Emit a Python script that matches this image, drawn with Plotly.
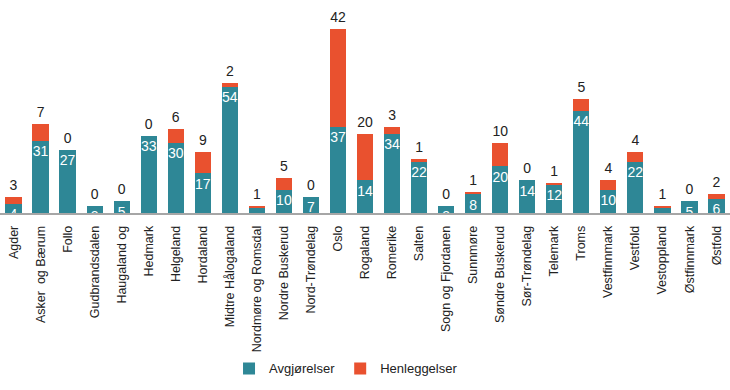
import plotly.graph_objects as go

categories = ["Agder", "Asker  og Bærum", "Follo", "Gudbrandsdalen", "Haugaland og",
              "Hedmark", "Helgeland", "Hordaland", "Midtre Hålogaland", "Nordmøre og Romsdal",
              "Nordre Buskerud", "Nord-Trøndelag", "Oslo", "Rogaland", "Romerike", "Salten",
              "Sogn og Fjordanen", "Sunnmøre", "Søndre Buskerud", "Sør-Trøndelag", "Telemark",
              "Troms", "Vestfinnmark", "Vestfold", "Vestoppland", "Østfinnmark", "Østfold"]
avgjorelser = [4, 31, 27, 3, 5, 33, 30, 17, 54, 2, 10, 7, 37, 14, 34, 22, 3, 8, 20, 14, 12, 44, 10, 22, 2, 5, 6]
henleggelser = [3, 7, 0, 0, 0, 0, 6, 9, 2, 1, 5, 0, 42, 20, 3, 1, 0, 1, 10, 0, 1, 5, 4, 4, 1, 0, 2]

totals = [a + h for a, h in zip(avgjorelser, henleggelser)]

BLUE = "#2E8796"
RED = "#E9512F"
FONT = "Liberation Sans, Arial, sans-serif"

fig = go.Figure()
fig.add_trace(go.Bar(
    x=categories, y=avgjorelser, name="Avgjørelser",
    marker=dict(color=BLUE, line=dict(width=0)),
    textposition="none",
))
fig.add_trace(go.Bar(
    x=categories, y=henleggelser, name="Henleggelser",
    marker=dict(color=RED, line=dict(width=0)),
    textposition="none",
))
# values inside the blue segments (white), hanging from the segment top
fig.add_trace(go.Scatter(
    x=categories, y=avgjorelser, mode="markers+text", text=[str(v) for v in avgjorelser],
    marker=dict(size=6, opacity=0), textposition="bottom center",
    showlegend=False, hoverinfo="skip",
    textfont=dict(color="white", size=14, family=FONT),
    cliponaxis=True,
))
# henleggelser values above the stacks
fig.add_trace(go.Scatter(
    x=categories, y=totals, mode="markers+text", text=[str(v) for v in henleggelser],
    marker=dict(size=4, opacity=0), textposition="top center",
    showlegend=False, hoverinfo="skip",
    textfont=dict(color="#222222", size=14, family=FONT),
    cliponaxis=False,
))

fig.update_layout(
    width=730, height=390,
    barmode="stack", bargap=0.4,
    margin=dict(l=0, r=0, t=15, b=177, autoexpand=False),
    plot_bgcolor="white", paper_bgcolor="white",
    font=dict(family=FONT, color="#222222"),
    legend=dict(orientation="h", x=0.474, xanchor="center", y=-0.785, yanchor="middle",
                font=dict(size=13), traceorder="normal"),
    showlegend=True,
)
fig.update_xaxes(
    tickangle=-90, tickfont=dict(size=12.5), showline=True, linecolor="#A6A6A6", linewidth=1.5,
    showgrid=False, ticks="", ticklabelstandoff=6, range=[-0.5, 26.5], automargin=False,
)
fig.update_yaxes(visible=False, range=[0, 85], showgrid=False, zeroline=False)

fig.write_html("out.html", config={"displayModeBar": False},
               post_script="document.body.style.margin='0';document.body.style.padding='0';")
